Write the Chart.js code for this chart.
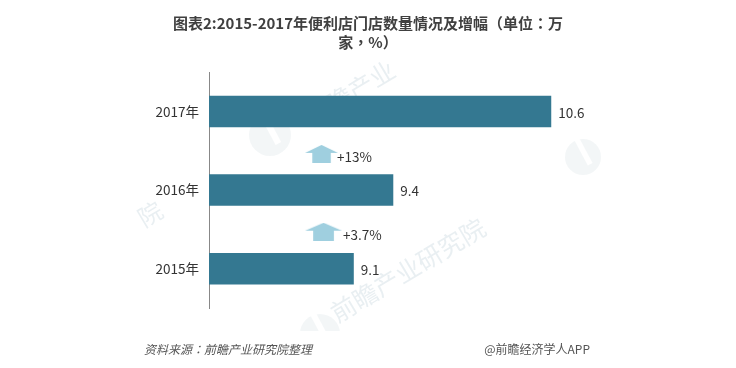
<!DOCTYPE html>
<html><head><meta charset="utf-8">
<style>html,body{margin:0;padding:0;background:#fff}#w{width:736px;height:368px}</style>
<script src="https://cdn.jsdelivr.net/npm/chart.js@4/dist/chart.umd.min.js"></script>
</head><body><div id="w"><canvas id="c" width="736" height="368"></canvas></div>
<script>
const categories = ['2017年','2016年','2015年'];
const storeCounts = [10.6, 9.4, 9.1];
const growthLabels = ['+13%','+3.7%'];
const growthX = [8.855, 8.87];
const growthY = [1.96, 0.97];
const titleLines = ['图表2:2015-2017年便利店门店数量情况及增幅（单位：万','家，%）'];
const sourceText = '资料来源：前瞻产业研究院整理';
const brandText = '@前瞻经济学人APP';
const watermarkText = '前瞻产业研究院';
const FONT = '"Noto Sans CJK TC","Noto Sans",sans-serif';

function arrowIcon(w,h){
  const c=document.createElement('canvas');c.width=w;c.height=h;
  const g=c.getContext('2d');g.fillStyle='#9fcfdf';
  const hh=h*0.44,sx=w*0.22;
  g.beginPath();g.moveTo(w/2,0);g.lineTo(w,hh);g.lineTo(w-sx,hh);g.lineTo(w-sx,h);g.lineTo(sx,h);g.lineTo(sx,hh);g.lineTo(0,hh);g.closePath();g.fill();
  return c;
}
function logo(g,x,y,r){
  g.save();g.fillStyle='rgba(120,150,165,0.09)';
  g.beginPath();g.arc(x,y,r,0,Math.PI*2);g.fill();
  g.strokeStyle='#fff';g.lineWidth=r*0.3;
  g.beginPath();g.moveTo(x-r*0.4,y-r*1.1);g.lineTo(x+r*0.4,y+r*0.4);g.stroke();
  g.restore();
}
const backdrop={id:'backdrop',beforeDatasetsDraw(ch){
  const g=ch.ctx;g.save();g.fillStyle='rgba(110,150,165,0.15)';g.textAlign='center';g.textBaseline='middle';
  [[350,93,25,4],[408,270,25,7]].forEach(([x,y,s,n])=>{
    g.save();g.translate(x,y);g.rotate(-0.54);g.font=s+'px '+FONT;g.fillText(watermarkText.slice(0,n),0,0);
    g.restore();});
  g.save();g.translate(150,214);g.rotate(-0.54);g.font='24px '+FONT;g.fillText(watermarkText.slice(6),0,0);g.restore();
  logo(g,583,157,18);
  logo(g,270,135,21);
  g.save();g.beginPath();g.rect(290,300,60,31);g.clip();logo(g,320,334,20);g.restore();
  g.restore();
}};
const notes={id:'notes',afterDatasetsDraw(ch){
  const g=ch.ctx;g.save();g.textBaseline='middle';g.fillStyle='#333';g.font='13.5px '+FONT;g.textAlign='left';
  ch.getDatasetMeta(0).data.forEach((b,i)=>g.fillText(storeCounts[i].toFixed(1),b.x+7,b.y+1));
  ch.getDatasetMeta(1).data.forEach((p,i)=>g.fillText(growthLabels[i],p.x+(i?19.5:15.5),p.y+3));
  g.fillStyle='#555';g.font='italic 12px '+FONT;g.fillText(sourceText,144,349);
  g.font='12px '+FONT;g.textAlign='right';g.fillText(brandText,590,349);
  g.restore();
}};
new Chart(document.getElementById('c'),{
  type:'bar',
  data:{labels:categories,datasets:[
    {data:storeCounts,backgroundColor:'#347891',categoryPercentage:1,barPercentage:0.4,grouped:false,xAxisID:'x',yAxisID:'y',order:2},
    {type:'scatter',data:growthX.map((x,i)=>({x,y:growthY[i]})),xAxisID:'x',yAxisID:'y2',order:1,showLine:false,
     pointStyle:[arrowIcon(33,18),arrowIcon(37,18)],pointRadius:10}
  ]},
  options:{
    indexAxis:'y',responsive:false,animation:false,
    layout:{padding:{left:0,right:0,top:0,bottom:60}},
    plugins:{legend:{display:false},tooltip:{enabled:false},
      title:{display:true,text:titleLines,color:'#404040',font:{family:FONT,size:15,weight:'bold',lineHeight:1.27},padding:{top:14,bottom:20}}},
    scales:{
      x:{type:'linear',min:8,max:11.92,display:false},
      y:{type:'category',position:'left',afterFit(s){s.width=209;},grid:{display:false,drawTicks:false},
         border:{display:true,color:'#888888',width:1},
         ticks:{color:'#333',font:{family:FONT,size:13.5},padding:10}},
      y2:{type:'linear',min:0,max:3,display:false,offset:false}
    }
  },
  plugins:[backdrop,notes]
});
</script></body></html>
